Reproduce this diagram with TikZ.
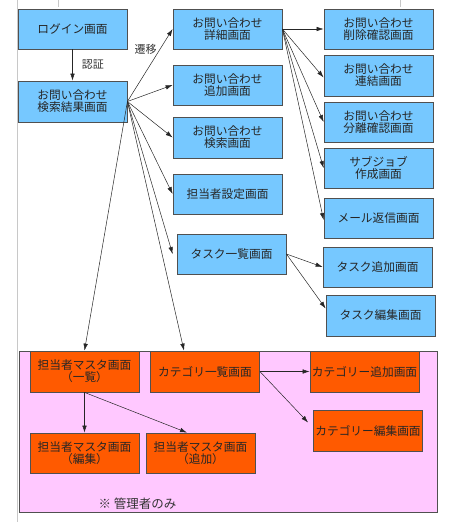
\documentclass[tikz,border=0pt]{standalone}
\usepackage{fontspec}
\setmainfont{Noto Sans CJK JP}
\usetikzlibrary{arrows.meta}
\definecolor{boxblue}{RGB}{118,200,255}
\definecolor{boxorange}{RGB}{255,90,0}
\definecolor{adminpink}{RGB}{255,200,255}
\definecolor{edgegray}{RGB}{80,80,80}
\definecolor{margingray}{RGB}{200,200,200}
\tikzset{
  screen/.style={draw=edgegray, line width=0.8pt, minimum width=109pt, minimum height=40pt,
    inner sep=0pt, align=center, font=\fontsize{11.7}{12}\selectfont, text=black!85},
  bluebox/.style={screen, fill=boxblue},
  orangebox/.style={screen, fill=boxorange},
  flow/.style={draw=black!85, line width=0.5pt, -{Latex[length=7pt,width=4.5pt]}},
  lbl/.style={font=\fontsize{11}{12}\selectfont, text=black!80, inner sep=0pt}
}
\begin{document}
\begin{tikzpicture}[x=1pt,y=-1pt]
\useasboundingbox (0,0) rectangle (452,522);
% page margin marks
\draw[margingray, line width=0.8pt] (17,0) -- (17,522);
\draw[margingray, line width=0.6pt] (58,0) -- (58,7);
\draw[margingray, line width=0.6pt] (400,0) -- (400,7);
% admin area
\node[draw=edgegray, line width=0.8pt, fill=adminpink, minimum width=418pt, minimum height=161pt, inner sep=0pt] (admin) at (228,431.5) {};
\node[lbl, font=\fontsize{12.5}{13}\selectfont] (adminlbl) at (137.5,504) {※ 管理者のみ};
% blue screens
\node[bluebox] (login) at (72.5,29) {ログイン画面};
\node[bluebox, minimum height=41pt] (search) at (72.5,101.5) {お問い合わせ\\検索結果画面};
\node[bluebox] (detail) at (227.5,29) {お問い合わせ\\詳細画面};
\node[bluebox] (add) at (227.5,85) {お問い合わせ\\追加画面};
\node[bluebox, minimum height=41pt] (find) at (227.5,137.5) {お問い合わせ\\検索画面};
\node[bluebox] (tanto) at (227.5,194) {担当者設定画面};
\node[bluebox] (tasklist) at (231.5,254) {タスク一覧画面};
\node[bluebox] (del) at (378.5,29) {お問い合わせ\\削除確認画面};
\node[bluebox, minimum height=41pt] (link) at (378.5,75.5) {お問い合わせ\\連結画面};
\node[bluebox] (split) at (378.5,122) {お問い合わせ\\分離確認画面};
\node[bluebox] (sub) at (378.5,168) {サブジョブ\\作成画面};
\node[bluebox] (mail) at (378.5,218) {メール返信画面};
\node[bluebox] (taskadd) at (377.5,267) {タスク追加画面};
\node[bluebox, minimum height=41pt] (taskedit) at (380.5,315.5) {タスク編集画面};
% orange screens
\node[orangebox, minimum height=41pt] (mlist) at (84.5,371.5) {担当者マスタ画面\\（一覧）};
\node[orangebox, minimum height=41pt] (catlist) at (205,371.5) {カテゴリ一覧画面};
\node[orangebox, minimum height=41pt] (catadd) at (364.5,371.5) {カテゴリー追加画面};
\node[orangebox, minimum height=41pt] (catedit) at (368,430.5) {カテゴリー編集画面};
\node[orangebox] (medit) at (84.5,453) {担当者マスタ画面\\（編集）};
\node[orangebox] (madd) at (200.5,453) {担当者マスタ画面\\（追加）};
% connectors
\draw[flow] (login) -- node[lbl, right=9pt] (auth) {認証} (search);
\draw[flow] (search.east) -- node[lbl, pos=0.72, left=3pt] (trans) {遷移} (detail.west);
\draw[flow] (search.east) -- (add.west);
\draw[flow] (search.east) -- (find.west);
\draw[flow] (search.east) -- (tanto.west);
\draw[flow] (search.east) -- ([xshift=-4pt]tasklist.west);
\draw[flow] (search.east) -- (mlist.north);
\draw[flow] (search.east) -- ([xshift=-21pt]catlist.north);
\draw[flow] (detail.east) -- (del.west);
\draw[flow] (detail.east) -- ([yshift=-2pt]link.west);
\draw[flow] (detail.east) -- (split.west);
\draw[flow] (detail.east) -- (sub.west);
\draw[flow] (detail.east) -- ([yshift=-2pt]mail.west);
\draw[flow] (tasklist.east) -- (taskadd.west);
\draw[flow] (tasklist.east) -- ([yshift=7pt]taskedit.west);
\draw[flow] (catlist.east) -- (catadd.west);
\draw[flow] (catlist.east) -- ([xshift=-5pt,yshift=8pt]catedit.west);
\draw[flow] (mlist.south) -- (medit.north);
\draw[flow] (mlist.south) -- ([xshift=-13.5pt]madd.north);
\end{tikzpicture}
\end{document}
